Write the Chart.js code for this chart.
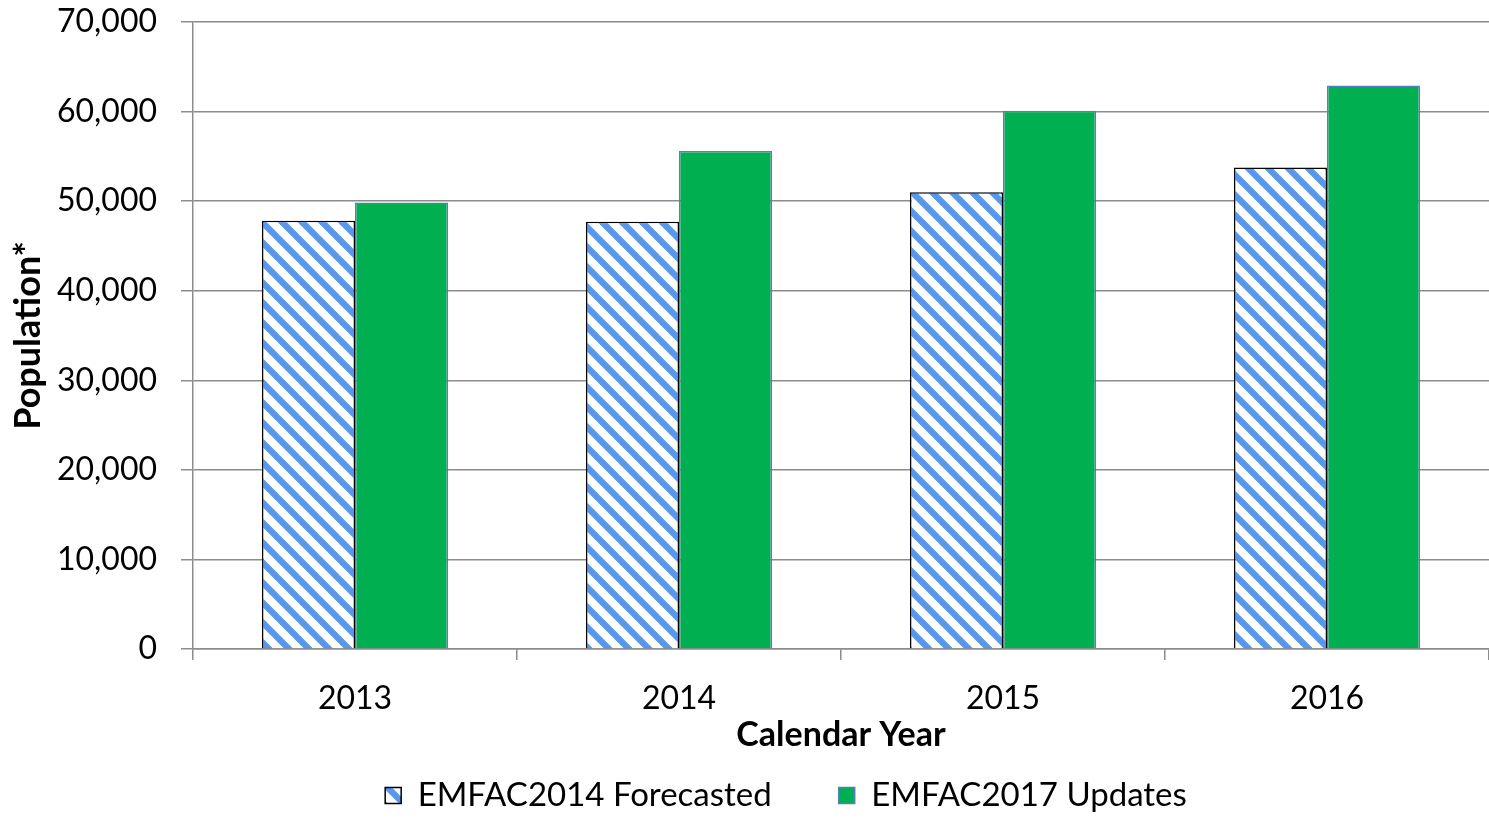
<!DOCTYPE html>
<html><head><meta charset="utf-8">
<script src="https://cdn.jsdelivr.net/npm/chart.js@4"></script>
<style>html,body{margin:0;padding:0;background:#fff}#wrap{width:1489px;height:822px;position:relative}</style>
</head><body><div id="wrap"><canvas id="c"></canvas></div>
<script>
const categories = ['2013', '2014', '2015', '2016'];
const emfac2014 = [47800, 47700, 51000, 53750];
const emfac2017 = [49850, 55600, 60100, 62900];
const yTickLabels = ['0', '10,000', '20,000', '30,000', '40,000', '50,000', '60,000', '70,000'];
const seriesNames = ['EMFAC2014 Forecasted', 'EMFAC2017 Updates'];

function hatch() {
  const s = 20;
  const c = document.createElement('canvas');
  c.width = s; c.height = s;
  const g = c.getContext('2d');
  g.fillStyle = '#ffffff';
  g.fillRect(0, 0, s, s);
  g.strokeStyle = '#5897ec';
  g.lineWidth = 6.4;
  for (const k of [-1, 0, 1]) {
    g.beginPath();
    g.moveTo(k * s - s, -s);
    g.lineTo(k * s + 2 * s, 2 * s);
    g.stroke();
  }
  return g.createPattern(c, 'repeat');
}

const FONT = 'Lato, "Noto Sans", sans-serif';
Chart.defaults.color = '#000';
Chart.defaults.font.family = FONT;
const gridCol = '#8c8c8c';

new Chart(document.getElementById('c'), {
  type: 'bar',
  data: {
    labels: categories,
    datasets: [
      { label: seriesNames[0], data: emfac2014, backgroundColor: hatch(), borderColor: '#000', borderWidth: 1.5,
        categoryPercentage: 0.574, barPercentage: 1 },
      { label: seriesNames[1], data: emfac2017, backgroundColor: '#00b050', borderColor: '#4f81bd', borderWidth: 1.5,
        categoryPercentage: 0.574, barPercentage: 1 }
    ]
  },
  options: {
    responsive: true,
    maintainAspectRatio: false,
    animation: false,
    devicePixelRatio: 1,
    layout: { padding: { left: 83, top: 22, right: 0, bottom: 0 } },
    plugins: {
      tooltip: { enabled: false },
      legend: {
        position: 'bottom',
        labels: { boxWidth: 16, boxHeight: 16, padding: 67, color: '#000', font: { family: FONT, size: 33 } }
      }
    },
    scales: {
      x: {
        grid: { drawOnChartArea: false, drawTicks: true, tickLength: 11, color: gridCol, lineWidth: 1.5, offset: true },
        border: { color: gridCol, width: 1.5 },
        ticks: { padding: 19, color: '#000', font: { family: FONT, size: 32 } },
        title: { display: true, text: 'Calendar Year', color: '#000', font: { family: FONT, size: 34, weight: 'bold' },
                 padding: { top: 0, bottom: -43 } },
        afterFit(s) { s.height = 63; s.paddingLeft = 0; s.paddingRight = 0; }
      },
      y: {
        min: 0, max: 70000,
        grid: { color: gridCol, lineWidth: 1.5, tickLength: 12 },
        border: { color: gridCol, width: 1.5 },
        ticks: { stepSize: 10000, padding: 24, color: '#000', font: { family: FONT, size: 32 },
                 callback: (v, i) => yTickLabels[i] },
        title: { display: true, text: 'Population*', color: '#000', font: { family: FONT, size: 36, weight: 'bold' },
                 padding: { top: -76, bottom: 0 } },
        afterFit(s) {
          s.width = 110;
          s.paddingTop = 0; s.paddingBottom = 0;
          s._computeLabelArea = () => undefined;
        }
      }
    }
  }
});
</script>
</body></html>
